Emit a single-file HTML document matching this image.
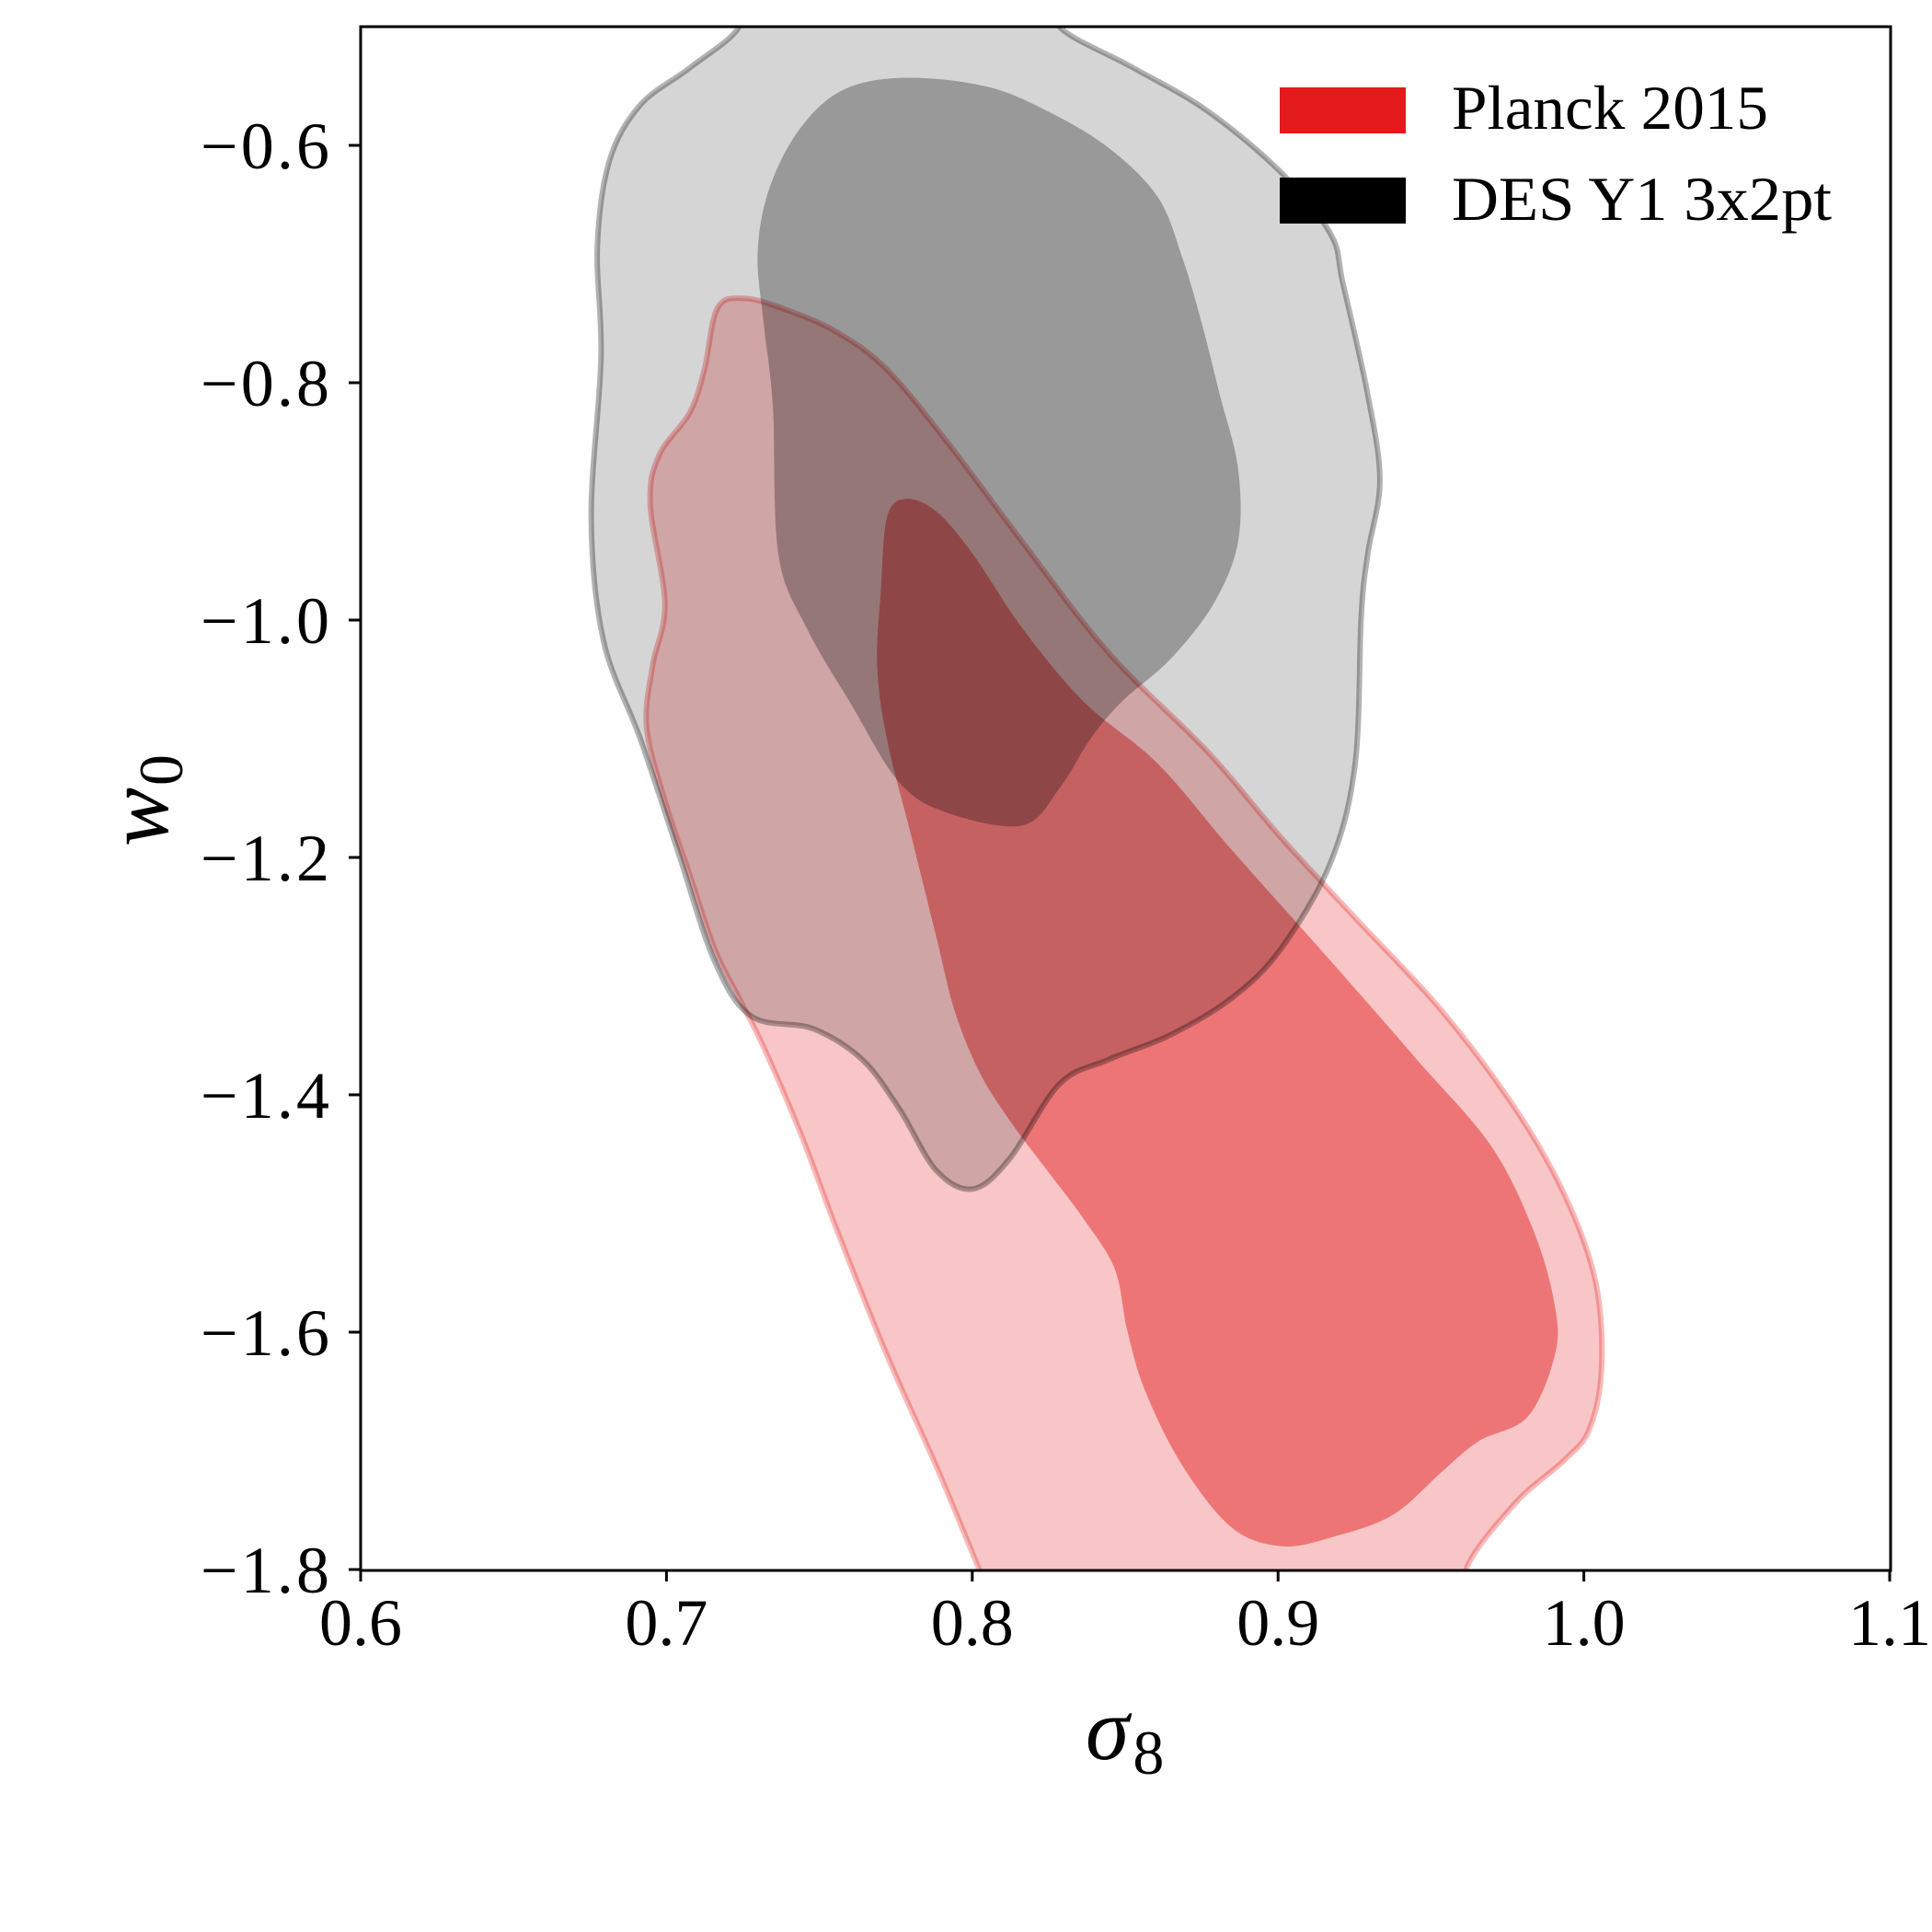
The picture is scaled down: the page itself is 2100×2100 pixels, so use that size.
<!DOCTYPE html>
<html><head><meta charset="utf-8"><style>
html,body{margin:0;padding:0;background:#fff}
svg{display:block}
text{font-family:"Liberation Serif","DejaVu Serif",serif;fill:#000}
</style></head><body>
<svg id="chart" xmlns="http://www.w3.org/2000/svg" width="2100" height="2100" viewBox="0 0 2100 2100">
<defs><clipPath id="plotclip"><rect x="392" y="29" width="1663" height="1678"/></clipPath></defs>
<g id="contours" clip-path="url(#plotclip)"></g>
<rect x="392" y="29" width="1663" height="1678" fill="none" stroke="#000" stroke-width="3"/>
<g id="ticks"></g>
<text x="1180" y="1912" font-size="96" font-style="italic">σ<tspan font-style="normal" font-size="68" dx="4" dy="16">8</tspan></text>
<text transform="translate(182,920) rotate(-90)" font-size="96" font-style="italic">w<tspan font-style="normal" font-size="68" dx="2" dy="16">0</tspan></text>
<g>
<rect x="1391" y="95" width="137" height="50" fill="#e41a1c"/>
<text x="1578" y="140" font-size="68" textLength="344" lengthAdjust="spacingAndGlyphs">Planck 2015</text>
<rect x="1391" y="193" width="137" height="50" fill="#000"/>
<text x="1578" y="239" font-size="68" textLength="413" lengthAdjust="spacingAndGlyphs">DES Y1 3x2pt</text>
</g>
</svg>
<script>
const xTicks=[0.6,0.7,0.8,0.9,1.0,1.1];
const xTickLabels=["0.6","0.7","0.8","0.9","1.0","1.1"];
const yTicks=[-0.6,-0.8,-1.0,-1.2,-1.4,-1.6,-1.8];
const yTickLabels=["\u22120.6","\u22120.8","\u22121.0","\u22121.2","\u22121.4","\u22121.6","\u22121.8"];
const planckOuterS=[0.7257,0.7167,0.7124,0.7076,0.6975,0.6947,0.6995,0.6955,0.6935,0.6995,0.7076,0.7157,0.7237,0.7318,0.7439,0.7560,0.7721,0.7882,0.8023,0.8084,0.9655,0.9615,0.9776,0.9937,1.0018,1.0058,1.0038,0.9937,0.9776,0.9534,0.9252,0.9010,0.8769,0.8446,0.8164,0.7922,0.7721,0.7560,0.7398];
const planckOuterW=[-0.7290,-0.7371,-0.7890,-0.8253,-0.8616,-0.9032,-0.9862,-1.0381,-1.0900,-1.1523,-1.2146,-1.2768,-1.3184,-1.3599,-1.4326,-1.5156,-1.6194,-1.7128,-1.8,-1.837,-1.837,-1.8,-1.7440,-1.7076,-1.6817,-1.6298,-1.5571,-1.4844,-1.4118,-1.3288,-1.2509,-1.1834,-1.1108,-1.0277,-0.9343,-0.8513,-0.7890,-0.7578,-0.7391];
const planckInnerS=[0.7781,0.7721,0.7701,0.7689,0.7721,0.7802,0.7882,0.7942,0.8023,0.8124,0.8245,0.8366,0.8466,0.8507,0.8567,0.8688,0.8849,0.9010,0.9172,0.9373,0.9534,0.9655,0.9816,0.9905,0.9905,0.9837,0.9696,0.9454,0.9172,0.8849,0.8607,0.8366,0.8164,0.8003,0.7882];
const planckInnerW=[-0.8979,-0.9135,-0.9758,-1.0381,-1.1004,-1.1834,-1.2665,-1.3288,-1.3806,-1.4222,-1.4637,-1.5052,-1.5467,-1.5986,-1.6505,-1.7128,-1.7647,-1.7803,-1.7730,-1.7543,-1.7180,-1.6920,-1.6713,-1.6194,-1.5779,-1.5156,-1.4429,-1.3703,-1.2872,-1.1938,-1.1211,-1.0692,-1.0070,-0.9447,-0.9084];
const desOuterS=[0.72,0.7237,0.7076,0.6915,0.6814,0.6774,0.6786,0.6754,0.6794,0.6915,0.7036,0.7157,0.7278,0.7479,0.7640,0.7761,0.7882,0.8003,0.8124,0.8285,0.8446,0.8648,0.8849,0.9010,0.9172,0.9252,0.9272,0.9293,0.9333,0.9293,0.9212,0.9172,0.9010,0.8769,0.8527,0.8285,0.83];
const desOuterW=[-0.47,-0.500,-0.5347,-0.5658,-0.6125,-0.6852,-0.7786,-0.9135,-1.0173,-1.1004,-1.1938,-1.2872,-1.3339,-1.3443,-1.3703,-1.4118,-1.4637,-1.4793,-1.4533,-1.3910,-1.3703,-1.3495,-1.3184,-1.2768,-1.2042,-1.1211,-0.9966,-0.9447,-0.8824,-0.8097,-0.7163,-0.6748,-0.6229,-0.5710,-0.5347,-0.5000,-0.47];
const desInnerS=[0.7580,0.7439,0.7338,0.7298,0.7318,0.7348,0.7366,0.7459,0.7600,0.7761,0.7922,0.8164,0.8285,0.8386,0.8487,0.8648,0.8789,0.8869,0.8869,0.8809,0.8748,0.8688,0.8607,0.8446,0.8245,0.8043,0.7781];
const desInnerW=[-0.5530,-0.5850,-0.6350,-0.6900,-0.7500,-0.8201,-0.9447,-1.0070,-1.0692,-1.1367,-1.1627,-1.1730,-1.1419,-1.1004,-1.0692,-1.0329,-0.9862,-0.9343,-0.8720,-0.8097,-0.7474,-0.6956,-0.6437,-0.6021,-0.5710,-0.5502,-0.5430];

const NS='http://www.w3.org/2000/svg';
function X(s){return 392+(s-0.6)/0.5*1662;}
function Y(w){return 1706-(w+1.8)/1.3*1677;}
function smoothPath(sa,wa){
  const p=sa.map((s,i)=>[X(s),Y(wa[i])]);const n=p.length;let d='M'+p[0][0].toFixed(1)+','+p[0][1].toFixed(1);
  for(let i=0;i<n;i++){const p0=p[(i-1+n)%n],p1=p[i],p2=p[(i+1)%n],p3=p[(i+2)%n];
    const c1=[p1[0]+(p2[0]-p0[0])/6,p1[1]+(p2[1]-p0[1])/6],c2=[p2[0]-(p3[0]-p1[0])/6,p2[1]-(p3[1]-p1[1])/6];
    d+='C'+c1.map(v=>v.toFixed(1)).join(',')+' '+c2.map(v=>v.toFixed(1)).join(',')+' '+p2[0].toFixed(1)+','+p2[1].toFixed(1);}
  return d+'Z';}
const g=document.getElementById('contours');
function addContour(sa,wa,fill,op,stroke,name){
  const el=document.createElementNS(NS,'path');
  el.setAttribute('d',smoothPath(sa,wa));
  el.setAttribute('fill',fill);el.setAttribute('fill-opacity',op);
  if(stroke){el.setAttribute('stroke',stroke);el.setAttribute('stroke-width','6');el.setAttribute('stroke-opacity','0.3');}
  
  
  g.appendChild(el);}
addContour(planckOuterS,planckOuterW,'#e41a1c',0.25,'#e41a1c','planck-95-contour');
addContour(planckInnerS,planckInnerW,'#e41a1c',0.47,null,'planck-68-contour');
addContour(desOuterS,desOuterW,'#000',0.165,'#000','des-95-contour');
addContour(desInnerS,desInnerW,'#000',0.28,null,'des-68-contour');

const t=document.getElementById('ticks');
xTicks.forEach((v,i)=>{
  const l=document.createElementNS(NS,'line');
  l.setAttribute('x1',X(v));l.setAttribute('x2',X(v));l.setAttribute('y1',1706);l.setAttribute('y2',1719);
  l.setAttribute('stroke','#000');l.setAttribute('stroke-width','3');
  
  
  t.appendChild(l);
  const tx=document.createElementNS(NS,'text');
  tx.setAttribute('x',X(v));tx.setAttribute('y',1788);tx.setAttribute('font-size','72');tx.setAttribute('text-anchor','middle');
  tx.textContent=xTickLabels[i];
  
  
  t.appendChild(tx);
});
yTicks.forEach((v,i)=>{
  const l=document.createElementNS(NS,'line');
  l.setAttribute('x1',379);l.setAttribute('x2',392);l.setAttribute('y1',Y(v));l.setAttribute('y2',Y(v));
  l.setAttribute('stroke','#000');l.setAttribute('stroke-width','3');
  
  
  t.appendChild(l);
  const tx=document.createElementNS(NS,'text');
  tx.setAttribute('x',358);tx.setAttribute('y',Y(v)+25);tx.setAttribute('font-size','72');tx.setAttribute('text-anchor','end');
  tx.setAttribute('textLength','140');tx.setAttribute('lengthAdjust','spacing');
  tx.textContent=yTickLabels[i];
  
  
  t.appendChild(tx);
});
</script>
</body></html>
